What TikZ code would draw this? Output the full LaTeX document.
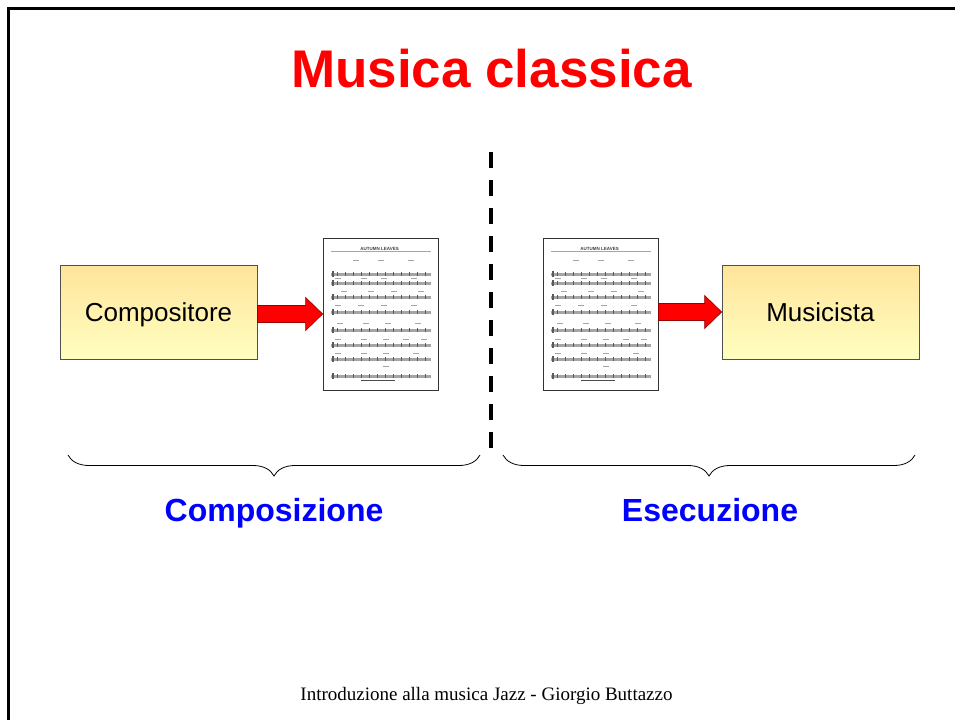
\documentclass[tikz,border=0pt]{standalone}
\usepackage{fontspec}
\setmainfont{Liberation Serif}
\setsansfont{Liberation Sans}
\usetikzlibrary{calc,decorations.pathreplacing}
\definecolor{boxtop}{RGB}{255,228,155}
\definecolor{boxbot}{RGB}{255,255,192}
\definecolor{boxline}{RGB}{80,80,80}
\definecolor{arrowline}{RGB}{150,0,0}
\definecolor{titlered}{RGB}{255,0,0}
\definecolor{labelblue}{RGB}{0,0,255}
\definecolor{staffcol}{RGB}{165,165,165}
\definecolor{notecol}{RGB}{90,90,90}
\newcommand\myblockarrow[2]{%
  \filldraw[redarrow]
    ($(#1.east |- #2.west)+(0,-8.5)$) -- ($(#2.west)+(-17,-8.5)$) --
    ($(#2.west)+(-17,-16.5)$) -- (#2.west) -- ($(#2.west)+(-17,16.5)$) --
    ($(#2.west)+(-17,8.5)$) -- ($(#1.east |- #2.west)+(0,8.5)$) -- cycle;}
\begin{document}
\begin{tikzpicture}[x=1pt,y=-1pt,
  box/.style={draw=boxline, line width=0.8pt, top color=boxtop, bottom color=boxbot,
    minimum width=197pt, minimum height=94pt, inner sep=0pt,
    font=\sffamily\fontsize{26}{30}\selectfont, text height=18.6pt, text depth=0pt},
  sheetbox/.style={draw=black!80, line width=0.8pt, fill=white,
    minimum width=115pt, minimum height=152pt, inner sep=0pt},
  redarrow/.style={fill=red, draw=arrowline, line width=0.7pt, line join=miter},
  bracestyle/.style={draw, line width=0.8pt,
    decorate, decoration={brace, mirror, amplitude=21pt}},
  partlabel/.style={font=\sffamily\bfseries\fontsize{32}{36}\selectfont, text=labelblue, anchor=base, inner sep=0pt},
  musicsheet/.pic={
    \node[font=\sffamily\bfseries\fontsize{4.5}{5}\selectfont, text=black!75, inner sep=0pt] at (57,11) {AUTUMN LEAVES};
    \fill[staffcol] (8,13) rectangle (108,14);
    \foreach \yy in {35,44,58,73,91,106,120,137} {
      \fill[staffcol] (8,\yy) rectangle (108,\yy+3.5);
      \foreach \xx in {14,22,...,104} { \fill[notecol] (\xx,\yy-0.5) rectangle (\xx+1.6,\yy+3.5); }
      \fill[notecol] (9,\yy-1.5) rectangle (11,\yy+4.5);
    }
    \foreach \yy/\xs in {22/{30,55,85}, 40/{12,38,58,88}, 53/{18,45,68,95}, 67/{12,35,58,88},
                         85/{14,40,62,92}, 101/{12,38,60,80,98}, 115/{12,38,60,90}, 128/{60}} {
      \foreach \xx in \xs { \fill[staffcol] (\xx,\yy) rectangle (\xx+6,\yy+1.5); }
    }
    \fill[black!70] (38,142) rectangle (72,143);
  }]
\useasboundingbox (0,0) rectangle (955,720);

% slide border (left and top)
\draw[line width=3pt] (8.5,720) -- (8.5,8.5) -- (955,8.5);

% title
\node[font=\sffamily\bfseries\fontsize{53}{60}\selectfont, text=titlered, anchor=base, inner sep=0pt]
  (title) at (491.5,87) {Musica classica};

% dashed separator
\coordinate (dtop) at (491,152);
\coordinate (dbot) at (491,448);
\draw[line width=4pt, dash pattern=on 16pt off 12pt] (dtop) -- (dbot);

% left part
\node[box] (comp) at (158.5,312) {Compositore};
\node[sheetbox] (sheetA) at (380.5,314) {};
\pic at (sheetA.north west) {musicsheet};
\myblockarrow{comp}{sheetA}

% right part
\node[sheetbox] (sheetB) at (600.5,314) {};
\pic at (sheetB.north west) {musicsheet};
\node[box] (mus) at (820.5,312) {Musicista};
\myblockarrow{sheetB}{mus}

% braces
\coordinate (bA1) at (68,455);
\coordinate (bA2) at (480,455);
\coordinate (bB1) at (503,455);
\coordinate (bB2) at (915,455);
\path[bracestyle] (bA1) -- (bA2);
\path[bracestyle] (bB1) -- (bB2);

% labels
\node[partlabel] (lcomp) at (274,521) {Composizione};
\node[partlabel] (lesec) at (710,521) {Esecuzione};

% footer
\node[font=\fontsize{19}{22}\selectfont, anchor=base, inner sep=0pt] (footer) at (486.5,700)
  {Introduzione alla musica Jazz - Giorgio Buttazzo};
\end{tikzpicture}
\end{document}
